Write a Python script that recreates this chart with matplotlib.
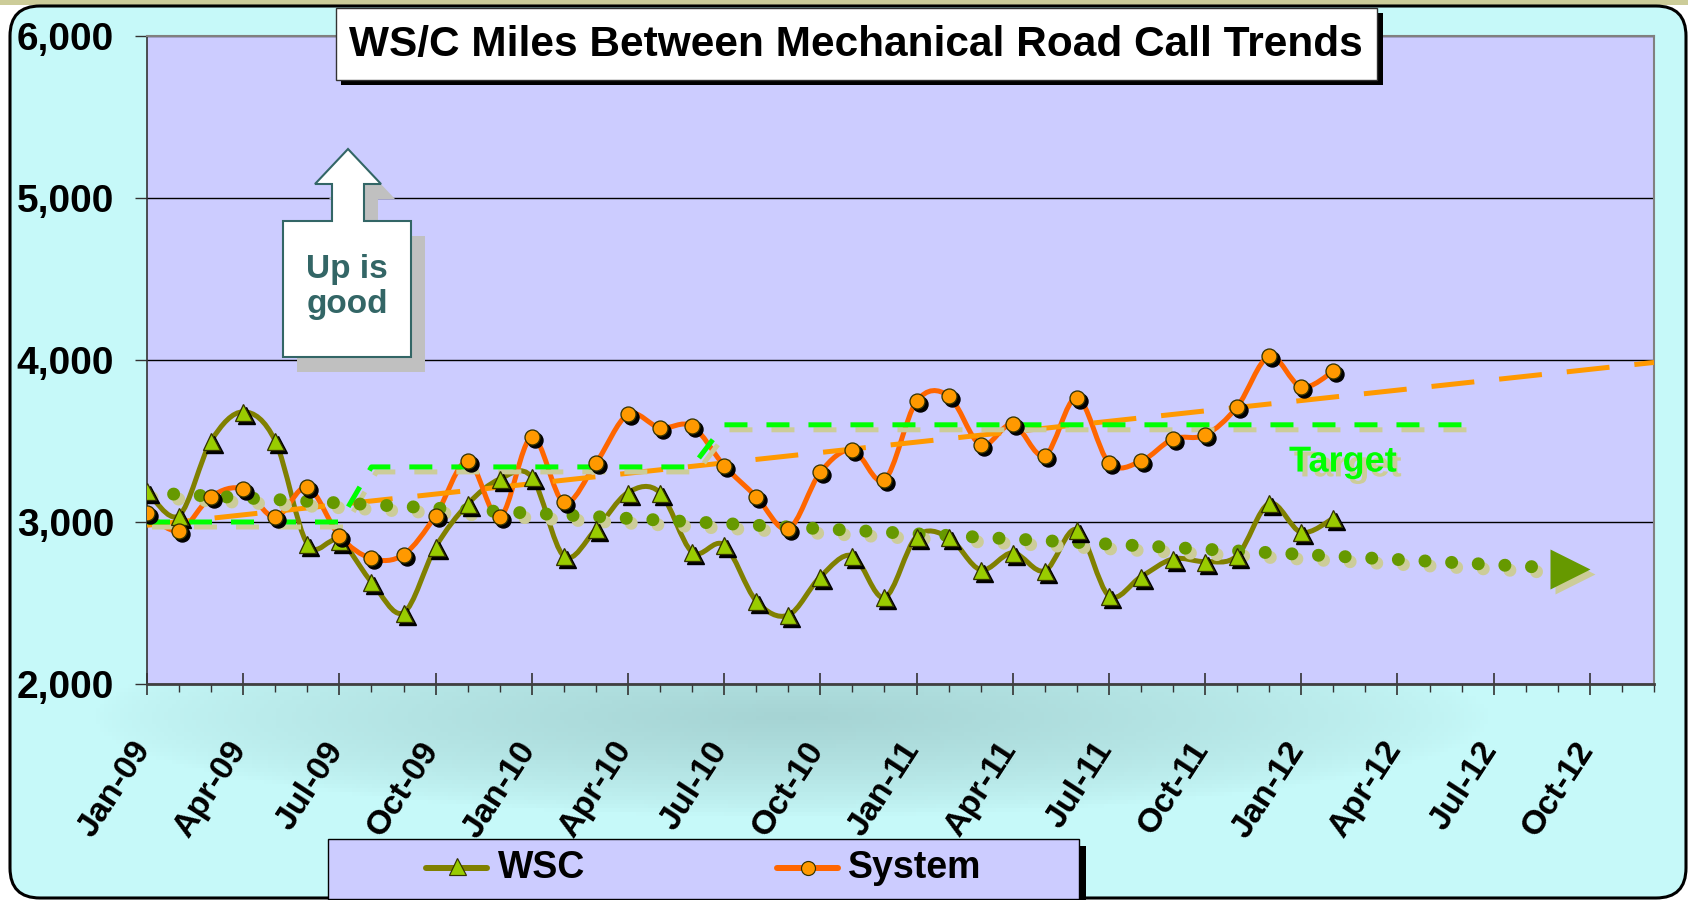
import numpy as np
import matplotlib
matplotlib.use("Agg")
import matplotlib.pyplot as plt
from matplotlib.path import Path
from matplotlib.patches import PathPatch, Rectangle, FancyBboxPatch, Polygon
from matplotlib.transforms import ScaledTranslation
from matplotlib import patheffects as pe

plt.rcParams['font.family'] = ['Liberation Sans', 'DejaVu Sans']
plt.rcParams['font.weight'] = 'bold'

# monthly values, Jan-09 .. Feb-12
wsc = [3190, 3040, 3500, 3680, 3500, 2865, 2885, 2630, 2440, 2845, 3110, 3265,
       3278, 2790, 2955, 3182, 3182, 2815, 2858, 2513, 2425, 2662, 2792, 2534,
       2910, 2905, 2705, 2810, 2699, 2953, 2545, 2662, 2772, 2756, 2792, 3115,
       2936, 3023]
system = [3054, 2946, 3157, 3204, 3029, 3214, 2915, 2775, 2798, 3039, 3375, 3029,
          3524, 3122, 3363, 3664, 3581, 3592, 3348, 3157, 2957, 3307, 3445, 3260,
          3744, 3779, 3476, 3604, 3410, 3767, 3365, 3375, 3513, 3536, 3711, 4023,
          3833, 3930]

# trend lines (month index, value)
wsc_trend_x = [0, 45]
wsc_trend_y = [3181, 2705]
sys_trend_x = [0, 47]
sys_trend_y = [2980, 3985]
target_x = [0, 6, 7, 17, 18, 41]
target_y = [3000, 3000, 3340, 3340, 3600, 3600]
target_label_pos = (37.3, 3370)

tick_labels = ["Jan-09", "Apr-09", "Jul-09", "Oct-09", "Jan-10", "Apr-10", "Jul-10", "Oct-10",
               "Jan-11", "Apr-11", "Jul-11", "Oct-11", "Jan-12", "Apr-12", "Jul-12", "Oct-12"]
n_months = 48
y_ticks = [2000, 3000, 4000, 5000, 6000]

W, H, DPI = 1688, 900, 100
PX = 72 / DPI  # points per pixel

fig = plt.figure(figsize=(W / DPI, H / DPI), dpi=DPI, facecolor='white')


def smooth_path(x, y):
    # excel style smoothed line: bezier with catmull-rom control points
    pts = np.column_stack([x, y]).astype(float)
    n = len(pts)
    verts = [pts[0]]
    codes = [Path.MOVETO]
    for i in range(n - 1):
        p0 = pts[i - 1] if i > 0 else pts[i]
        p1, p2 = pts[i], pts[i + 1]
        p3 = pts[i + 2] if i + 2 < n else pts[i + 1]
        verts += [p1 + (p2 - p0) / 6, p2 - (p3 - p1) / 6, p2]
        codes += [Path.CURVE4] * 3
    return Path(verts, codes)


# ---- background: rounded cyan panel ----
bg = fig.add_axes([0, 0, 1, 1], zorder=0)
bg.set_xlim(0, W)
bg.set_ylim(H, 0)
bg.axis('off')
bg.add_patch(Rectangle((0, 0), W, 5, color='#CCCC99', lw=0))
yy, xx = np.mgrid[0:H:4, 0:W:4]
d = np.sqrt(((xx - 790) / 700) ** 2 + ((yy - 715) / 100) ** 2)
t = np.clip(1 - d, 0, 1) ** 0.7
c0 = np.array([0.78, 0.98, 0.98])
c1 = np.array([0.65, 0.83, 0.83])
img = c0 + (c1 - c0) * t[..., None]
frame = FancyBboxPatch((10, 6), 1676, 892, boxstyle="round,pad=0,rounding_size=30",
                       fc='none', ec='black', lw=2.2, zorder=3)
im = bg.imshow(img, extent=(0, W, H, 0), aspect='auto', zorder=1)
bg.add_patch(frame)
im.set_clip_path(frame)

# ---- main plot ----
ax = fig.add_axes([147 / W, 216 / H, (1654 - 147) / W, (684 - 36) / H], zorder=1)
ax.set_facecolor('#CCCCFF')
ax.set_xlim(0, n_months - 1)
ax.set_ylim(y_ticks[0], y_ticks[-1])
ax.yaxis.grid(True, color='black', lw=1)
ax.set_axisbelow(True)
for s in ['top', 'right']:
    ax.spines[s].set_color('#808080')
    ax.spines[s].set_linewidth(1.5)
ax.spines['left'].set_color('#333333')
ax.spines['left'].set_linewidth(1.2)
ax.spines['bottom'].set_color('#404040')
ax.spines['bottom'].set_linewidth(2)


def shift(dx, dy):
    return ax.transData + ScaledTranslation(dx / DPI, -dy / DPI, fig.dpi_scale_trans)


months = np.arange(len(wsc))
tan = '#CCCC99'

# smoothed data lines
ax.add_patch(PathPatch(smooth_path(months, wsc), fill=False, ec='#808000', lw=5 * PX,
                       capstyle='round', joinstyle='round', zorder=3))
ax.add_patch(PathPatch(smooth_path(months, system), fill=False, ec='#FF6600', lw=5 * PX,
                       capstyle='round', joinstyle='round', zorder=3))

# system trend
ax.plot(sys_trend_x, sys_trend_y, color='#FF9900', lw=5 * PX, linestyle=(0, (8.6, 5.0)), zorder=4)

# target
ax.plot(target_x, target_y, color=tan, lw=5 * PX, linestyle=(0, (4.6, 3.8)), zorder=4,
        transform=shift(5, 5))
ax.plot(target_x, target_y, color='#00FF00', lw=5 * PX, linestyle=(0, (4.6, 3.8)), zorder=4)
ax.text(*target_label_pos, "Target", color='#00FF00', fontsize=26, ha='center', va='center', zorder=6,
        path_effects=[pe.withSimplePatchShadow(offset=(3.5, -3.5), shadow_rgbFace=tan, alpha=1)])

# wsc trend (dotted with arrow)
arrow_ms = 40
x_tip = wsc_trend_x[-1]
x_c = x_tip - (arrow_ms / 2) / (1507 / (n_months - 1))
y_c = np.interp(x_c, wsc_trend_x, wsc_trend_y)
line_x = [wsc_trend_x[0], x_c]
line_y = [wsc_trend_y[0], y_c]
dot_style = dict(lw=13 * PX, linestyle=(0, (0.001, 2.05)), dash_capstyle='round', zorder=4)
ax.plot(line_x, line_y, color=tan, transform=shift(5, 5), **dot_style)
ax.plot(line_x, line_y, color='#669900', **dot_style)
ax.plot([x_c], [y_c], marker='>', ms=arrow_ms * PX, color=tan, mec='none', transform=shift(5, 5), zorder=4)
ax.plot([x_c], [y_c], marker='>', ms=arrow_ms * PX, color='#669900', mec='none', zorder=4)

# markers with black drop shadow
ax.plot(months, wsc, ls='none', marker='^', ms=17 * PX, color='black', mec='black', transform=shift(3, 3), zorder=5)
ax.plot(months, wsc, ls='none', marker='^', ms=17 * PX, mfc='#99CC00', mec='#333300', mew=1.3 * PX, zorder=5)
ax.plot(months, system, ls='none', marker='o', ms=15 * PX, color='black', mec='black', transform=shift(3, 3), zorder=5)
ax.plot(months, system, ls='none', marker='o', ms=15 * PX, mfc='#FF9900', mec='#333300', mew=1.3 * PX, zorder=5)

# axes ticks
ax.set_yticks(y_ticks)
ax.set_yticklabels([f"{v:,}" for v in y_ticks])
ax.tick_params(axis='y', direction='out', length=12 * PX, width=1, color='#333333', pad=21 * PX, labelsize=28)
ax.set_xticks(np.arange(0, n_months, 3))
ax.set_xticks(np.arange(n_months), minor=True)
ax.set_xticklabels(tick_labels, rotation=57, ha='right', va='center', rotation_mode='anchor')
ax.tick_params(axis='x', which='major', direction='inout', length=23 * PX, width=1.2, color='#333333',
               pad=49 * PX, labelsize=24.5)
ax.tick_params(axis='x', which='minor', direction='out', length=8 * PX, width=1, color='#333333')
off = ScaledTranslation(-3 / DPI, 0, fig.dpi_scale_trans)
for lbl in ax.get_xticklabels():
    lbl.set_transform(lbl.get_transform() + off)

# ---- foreground decorations ----
fg = fig.add_axes([0, 0, 1, 1], zorder=2)
fg.set_xlim(0, W)
fg.set_ylim(H, 0)
fg.axis('off')
fg.patch.set_alpha(0)

# title box
fg.add_patch(Rectangle((341, 13), 1042, 72, fc='black', lw=0))
fg.add_patch(Rectangle((336, 8), 1041, 72, fc='white', ec='#333333', lw=1))
fg.text(856, 45, "WS/C Miles Between Mechanical Road Call Trends", fontsize=30.5, ha='center', va='center')

# "Up is good" arrow
arrow = [(283, 357), (283, 221), (332, 221), (332, 184), (315, 184), (348, 149),
         (381, 184), (364, 184), (364, 221), (411, 221), (411, 357)]
fg.add_patch(Polygon([(x + 14, y + 15) for x, y in arrow], closed=True, fc='#C0C0C0', lw=0))
fg.add_patch(Polygon(arrow, closed=True, fc='white', ec='#336666', lw=1.5))
fg.text(347, 287, "Up is\ngood", color='#336666', fontsize=24, ha='center', va='center',
        linespacing=1.15)

# legend
fg.add_patch(Rectangle((336, 846), 750, 60, fc='black', lw=0))
fg.add_patch(Rectangle((328, 839), 751, 60, fc='#CCCCFF', ec='black', lw=1))
fg.plot([426, 487], [868, 868], color='#808000', lw=6 * PX, solid_capstyle='round')
fg.plot([457], [866], marker='^', ms=17 * PX, mfc='#99CC00', mec='#333300', mew=1.2 * PX)
fg.text(498, 868, "WSC", fontsize=27, va='center', ha='left')
fg.plot([777, 838], [868, 868], color='#FF6600', lw=6 * PX, solid_capstyle='round')
fg.plot([808], [868], marker='o', ms=14 * PX, mfc='#FF9900', mec='#333300', mew=1.2 * PX)
fg.text(848, 868, "System", fontsize=27, va='center', ha='left')

fig.savefig("out.png", dpi=DPI)
